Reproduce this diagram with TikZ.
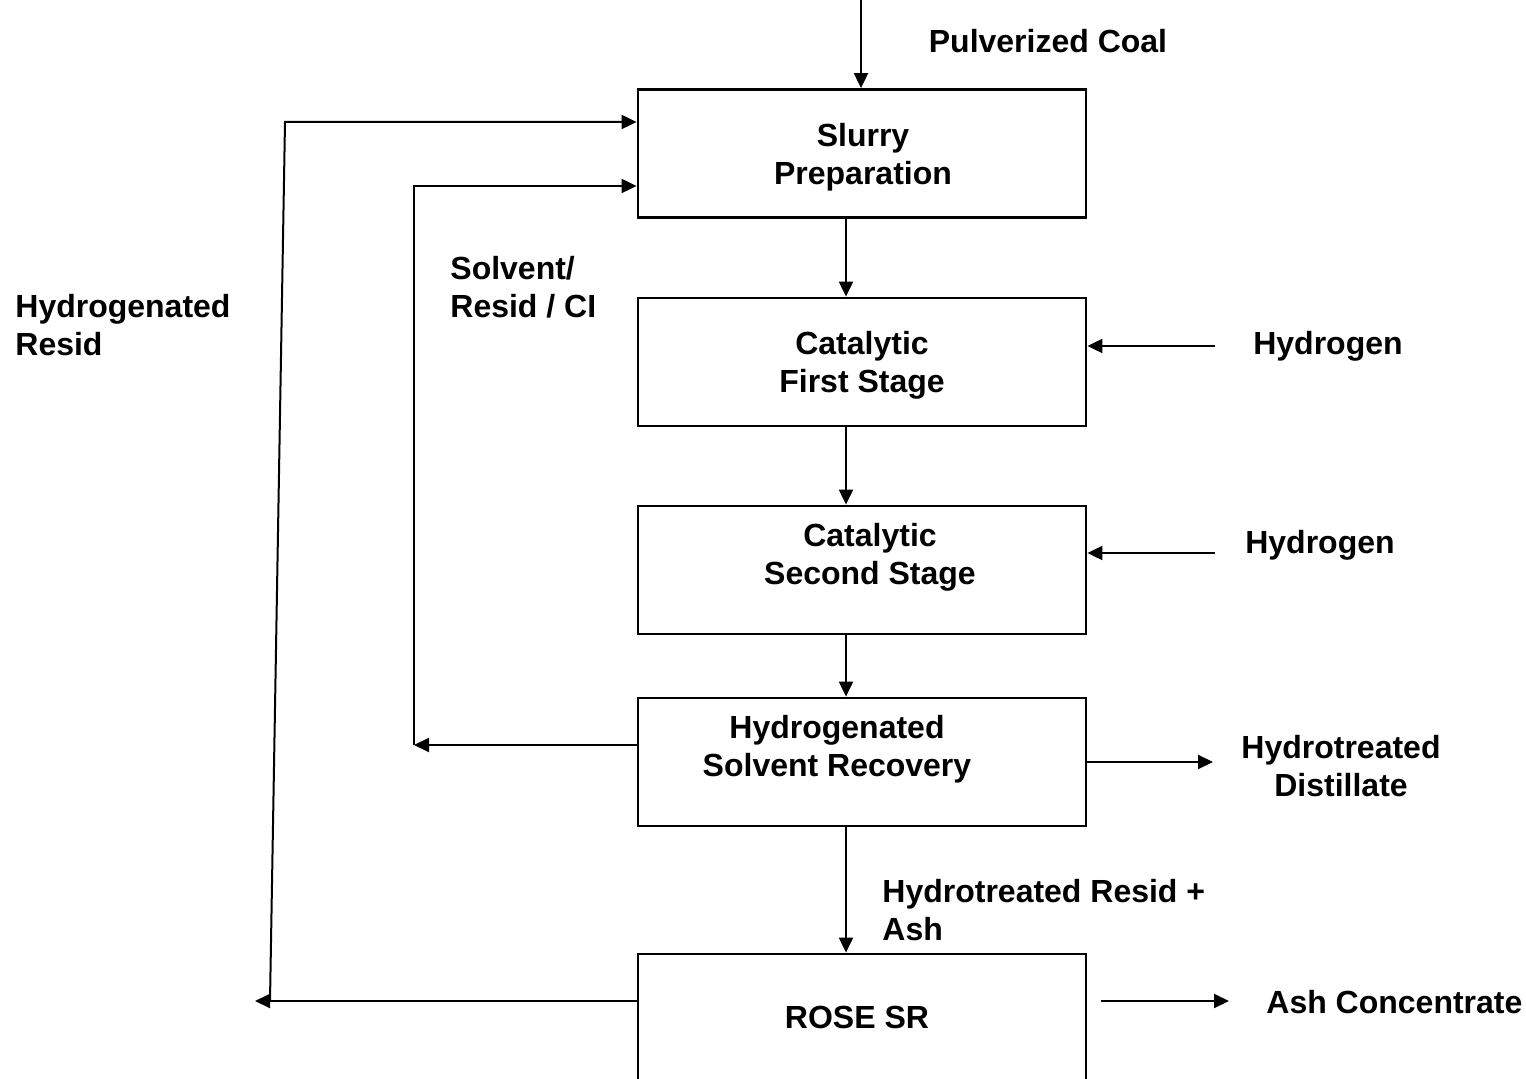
\documentclass[tikz,border=0pt]{standalone}
\usepackage{fontspec}
\setmainfont{Liberation Sans}
\usetikzlibrary{arrows.meta}
\begin{document}
\begin{tikzpicture}[x=0.5pt,y=-0.5pt,
  unit/.style={draw=black,line width=1.4pt,minimum width=224pt,minimum height=64pt,inner sep=0pt},
  lbl/.style={font=\fontsize{16pt}{19pt}\selectfont\bfseries,inner sep=0pt,align=center},
  lbll/.style={lbl,align=left,anchor=west},
  flow/.style={line width=1pt,-{Triangle[length=7.5pt,width=7pt]}},
  line/.style={line width=1pt}]
\useasboundingbox (0,0) rectangle (1526,1079);
\clip (0,0) rectangle (1526,1079);

% process units
\node[unit] (b1) at (862,153.5) {};
\node[unit] (b2) at (862,362) {};
\node[unit] (b3) at (862,570) {};
\node[unit] (b4) at (862,762) {};
\node[unit] (b5) at (862,1018) {};

% unit names
\node[lbl] (t1) at (863,157) {Slurry\\Preparation};
\node[lbl] (t2) at (862,365) {Catalytic\\First Stage};
\node[lbl] (t3) at (870,557) {Catalytic\\Second Stage};
\node[lbl] (t4) at (837,749) {Hydrogenated\\Solvent Recovery};
\node[lbl] (t5) at (857,1017) {ROSE SR};

% stream labels
\node[lbl] (coal) at (1048,41) {Pulverized Coal};
\node[lbl] (h2a) at (1328,346) {Hydrogen};
\node[lbl] (h2b) at (1320,545) {Hydrogen};
\node[lbl] (dist) at (1341,766) {Hydrotreated\\Distillate};
\node[lbll] (ash) at (1266,1002) {Ash Concentrate};
\node[lbll] (hres) at (882,910) {Hydrotreated Resid +\\Ash};
\node[lbll] (solv) at (450,287) {Solvent/\\Resid / CI};
\node[lbll] (hgr) at (15,325) {Hydrogenated\\Resid};

% reference points for the connectors
\coordinate (vx) at (846,0);
\coordinate (cin) at (861,0);
\coordinate (h1) at (1215,346);
\coordinate (h2) at (1215,553);
\coordinate (dout) at (1213,762);
\coordinate (as) at (1101,1001);
\coordinate (ae) at (1229,1001);
\coordinate (ir) at (414,745);
\coordinate (it) at (414,186);
\coordinate (oe) at (255,1001);
\coordinate (ob) at (270,1001);
\coordinate (ot) at (285,122);

% main train
\draw[flow] (cin) -- (b1.north -| cin);
\draw[flow] (b1.south -| vx) -- (b2.north -| vx);
\draw[flow] (b2.south -| vx) -- (b3.north -| vx);
\draw[flow] (b3.south -| vx) -- (b4.north -| vx);
\draw[flow] (b4.south -| vx) -- (b5.north -| vx);

% hydrogen feeds and products
\draw[flow] (h1) -- (b2.east |- h1);
\draw[flow] (h2) -- (b3.east |- h2);
\draw[flow] (b4.east |- dout) -- (dout);
\draw[flow] (as) -- (ae);

% solvent recycle
\draw[flow] (b4.west |- ir) -- (ir);
\draw[flow] (ir) -- (it) -- (b1.west |- it);

% resid recycle
\draw[flow] (b5.west |- oe) -- (oe);
\draw[flow] (ob) -- (ot) -- (b1.west |- ot);
\end{tikzpicture}
\end{document}
